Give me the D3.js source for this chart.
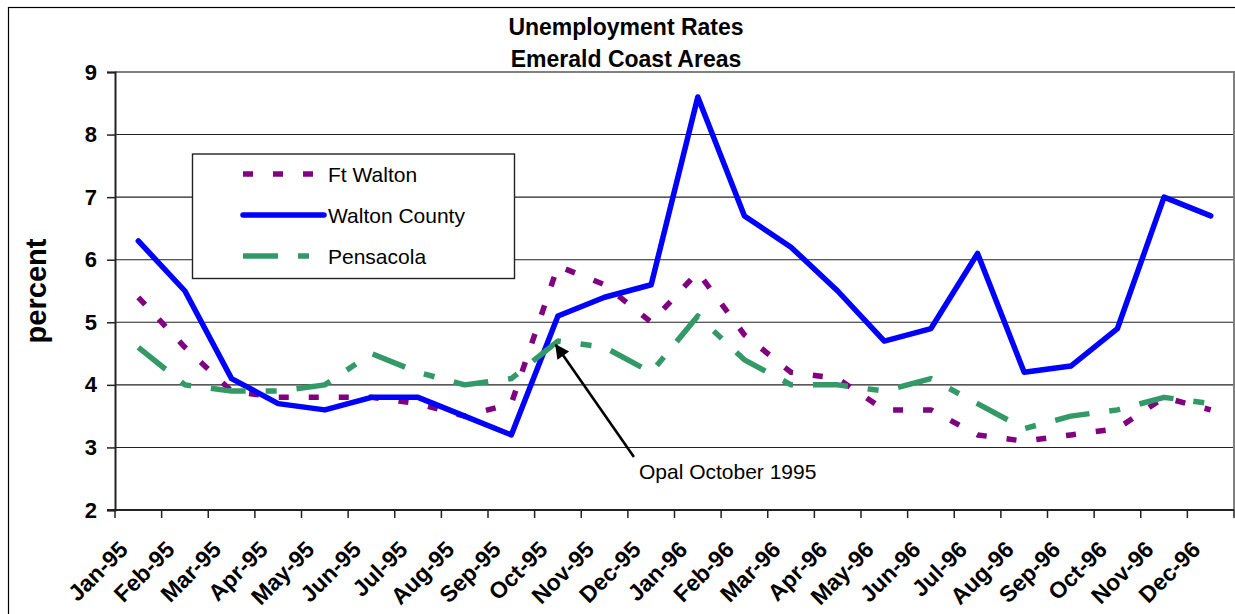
<!DOCTYPE html>
<html>
<head>
<meta charset="utf-8">
<script src="https://cdn.jsdelivr.net/npm/d3@7"></script>
<style>
  html, body { margin: 0; padding: 0; background: #fff; }
  svg { display: block; font-family: "Liberation Sans", Arial, sans-serif; }
</style>
</head>
<body>
<svg id="chart" width="1235" height="614"></svg>
<script>
// Monthly unemployment rates (percent), Jan 1995 – Dec 1996
const months = ["Jan-95","Feb-95","Mar-95","Apr-95","May-95","Jun-95","Jul-95","Aug-95","Sep-95","Oct-95","Nov-95","Dec-95",
                "Jan-96","Feb-96","Mar-96","Apr-96","May-96","Jun-96","Jul-96","Aug-96","Sep-96","Oct-96","Nov-96","Dec-96"];
const ftWalton     = [5.4,4.6,3.9,3.8,3.8,3.8,3.7,3.5,3.7,5.9,5.6,5.0,5.8,4.8,4.2,4.1,3.6,3.6,3.2,3.1,3.2,3.3,3.8,3.6];
const waltonCounty = [6.3,5.5,4.1,3.7,3.6,3.8,3.8,3.5,3.2,5.1,5.4,5.6,8.6,6.7,6.2,5.5,4.7,4.9,6.1,4.2,4.3,4.9,7.0,6.7];
const pensacola    = [4.6,4.0,3.9,3.9,4.0,4.5,4.2,4.0,4.1,4.7,4.6,4.2,5.1,4.4,4.0,4.0,3.9,4.1,3.7,3.3,3.5,3.6,3.8,3.7];
const yTicks = [2,3,4,5,6,7,8,9];
const titleLines = ["Unemployment Rates", "Emerald Coast Areas"];
const yAxisTitle = "percent";
const note = { label: "Opal October 1995", month: "Oct-95", value: 4.7 };

const series = [
  { name: "Ft Walton",     values: ftWalton,     color: "#800080", dash: "10,20",          cap: "butt"  },
  { name: "Walton County", values: waltonCounty, color: "#0000FF", dash: null,             cap: "round" },
  { name: "Pensacola",     values: pensacola,    color: "#339966", dash: "35,20,11,20",    cap: "butt"  }
];

const svg = d3.select("#chart");
const plot = { left: 115, right: 1234, top: 72, bottom: 510 };

const x = d3.scaleBand().domain(months).range([plot.left, plot.right]);
const y = d3.scaleLinear().domain([2, 9]).range([plot.bottom, plot.top]);
const cx = m => x(m) + x.bandwidth() / 2;

// chart-area frame
svg.append("rect").attr("x", 8.5).attr("y", 7.5).attr("width", 1240).attr("height", 620)
  .attr("fill", "#fff").attr("stroke", "#000").attr("stroke-width", 1.2);

// titles
svg.append("g").selectAll("text").data(titleLines).join("text")
  .attr("x", 626).attr("y", (d, i) => 35 + i * 32)
  .attr("text-anchor", "middle").attr("font-weight", "bold").attr("font-size", 23)
  .text(d => d);

// horizontal gridlines
svg.append("g").selectAll("line").data(yTicks.filter(v => v > 2 && v < 9)).join("line")
  .attr("x1", plot.left).attr("x2", plot.right)
  .attr("y1", d => y(d)).attr("y2", d => y(d))
  .attr("stroke", "#222").attr("stroke-width", 1.1);

// plot-area border (top and right)
svg.append("path")
  .attr("d", `M${plot.left},${y(9)}H${plot.right}V${plot.bottom}`)
  .attr("fill", "none").attr("stroke", "#808080").attr("stroke-width", 2);

// y axis
const yAxis = svg.append("g").attr("transform", `translate(${plot.left},0)`)
  .call(d3.axisLeft(y).tickValues(yTicks).tickFormat(d3.format("d")).tickSize(8).tickPadding(10));
yAxis.select(".domain").attr("stroke", "#222").attr("stroke-width", 2);
yAxis.selectAll(".tick line").attr("stroke", "#222").attr("stroke-width", 1.5);
yAxis.selectAll(".tick text").attr("font-size", 22).attr("font-weight", "bold")
  .attr("fill", "#000").attr("font-family", "Liberation Sans, Arial, sans-serif");

// x axis: labels at band centres, ticks at band edges
const xAxis = svg.append("g").attr("transform", `translate(0,${plot.bottom})`)
  .call(d3.axisBottom(x).tickSize(0).tickPadding(0));
xAxis.select(".domain").remove();
xAxis.selectAll(".tick text")
  .attr("x", 0).attr("y", 0).attr("dy", 0)
  .attr("text-anchor", "end")
  .attr("transform", "translate(-9,41) rotate(-45)")
  .attr("font-size", 23).attr("font-weight", "bold").attr("fill", "#000")
  .attr("font-family", "Liberation Sans, Arial, sans-serif");

const edges = months.map(m => x(m)).concat([x.range()[1]]);
svg.append("g").selectAll("line").data(edges).join("line")
  .attr("x1", d => d).attr("x2", d => d)
  .attr("y1", plot.bottom).attr("y2", plot.bottom + 8)
  .attr("stroke", "#222").attr("stroke-width", 1.5);
svg.append("line")
  .attr("x1", plot.left - 8).attr("x2", plot.right)
  .attr("y1", plot.bottom).attr("y2", plot.bottom)
  .attr("stroke", "#222").attr("stroke-width", 2);

// y axis title
svg.append("text")
  .attr("transform", `translate(46,${(plot.top + plot.bottom) / 2}) rotate(-90)`)
  .attr("text-anchor", "middle").attr("font-weight", "bold").attr("font-size", 29)
  .text(yAxisTitle);

// series lines
const line = d3.line().x((d, i) => cx(months[i])).y(d => y(d));
svg.append("g").selectAll("path").data(series).join("path")
  .attr("d", d => line(d.values))
  .attr("fill", "none")
  .attr("stroke", d => d.color)
  .attr("stroke-width", 5.5)
  .attr("stroke-linejoin", "round")
  .attr("stroke-linecap", d => d.cap)
  .attr("stroke-dasharray", d => d.dash);

// legend
const legend = svg.append("g");
legend.append("rect").attr("x", 192.5).attr("y", 154).attr("width", 322).attr("height", 124.5)
  .attr("fill", "#fff").attr("stroke", "#222").attr("stroke-width", 1.4);
const items = legend.selectAll("g.item").data(series).join("g").attr("class", "item")
  .attr("transform", (d, i) => `translate(0,${174 + i * 41})`);
items.append("line")
  .attr("x1", 243).attr("x2", 324).attr("y1", 0).attr("y2", 0)
  .attr("stroke", d => d.color).attr("stroke-width", 5.5)
  .attr("stroke-linecap", d => d.cap)
  .attr("stroke-dasharray", d => d.dash);
items.append("text")
  .attr("x", 328).attr("y", 8).attr("font-size", 21).attr("fill", "#000")
  .text(d => d.name);

// annotation arrow pointing at the October 1995 hurricane
const tip = [cx(note.month) - 2, y(note.value) + 4];
const tail = [tip[0] + 78, tip[1] + 112];
svg.append("defs").append("marker")
  .attr("id", "head").attr("viewBox", "0 0 10 10").attr("refX", 9).attr("refY", 5)
  .attr("markerWidth", 6.5).attr("markerHeight", 5.5).attr("orient", "auto")
  .attr("markerUnits", "strokeWidth")
  .append("path").attr("d", "M0,0L10,5L0,10Z").attr("fill", "#000");
svg.append("line")
  .attr("x1", tail[0]).attr("y1", tail[1]).attr("x2", tip[0]).attr("y2", tip[1])
  .attr("stroke", "#000").attr("stroke-width", 2.6).attr("marker-end", "url(#head)");
svg.append("text")
  .attr("x", tail[0] + 5).attr("y", tail[1] + 22)
  .attr("font-size", 21).attr("fill", "#000")
  .text(note.label);
</script>
</body>
</html>
